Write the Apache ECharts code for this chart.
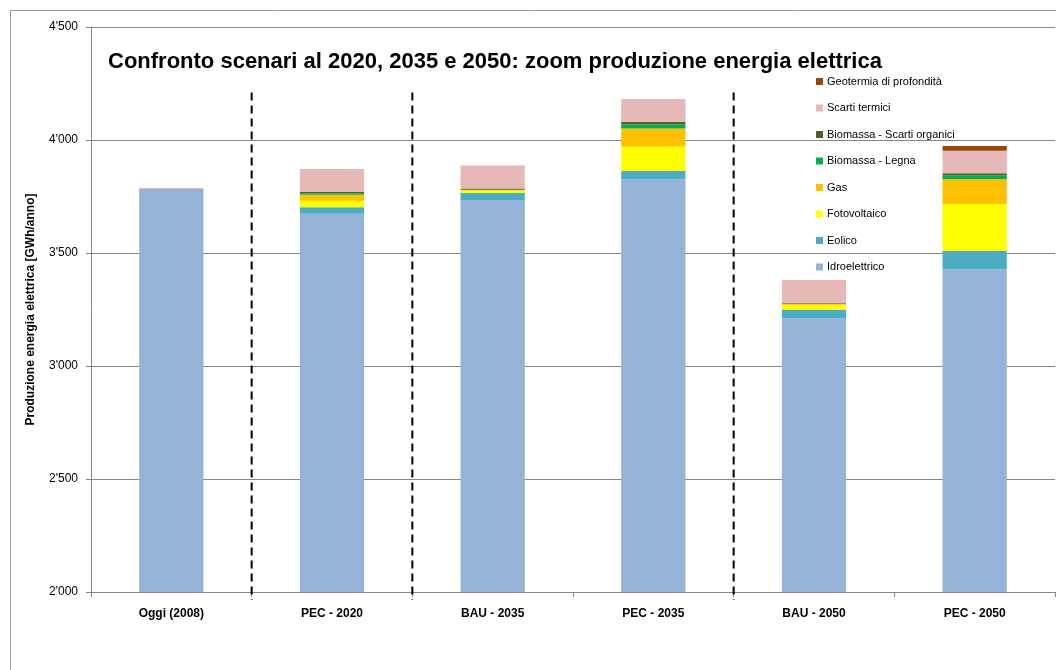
<!DOCTYPE html>
<html>
<head>
<meta charset="utf-8">
<script src="https://cdn.jsdelivr.net/npm/echarts@6/dist/echarts.min.js"></script>
<style>
  html, body { margin: 0; padding: 0; background: #fff; }
  #chart { width: 1056px; height: 670px; }
</style>
</head>
<body>
<div id="chart"></div>
<script>
// categorie e valori (GWh/anno)
const categories = ['Oggi (2008)', 'PEC - 2020', 'BAU - 2035', 'PEC - 2035', 'BAU - 2050', 'PEC - 2050'];
const idroelettrico = [3783, 3674, 3735, 3826, 3211, 3428];
const eolico = [0, 28, 30, 37, 38, 81];
const fotovoltaico = [0, 29, 12, 108, 22, 208];
const gas = [0, 27, 3, 80, 3, 109];
const biomassaLegna = [0, 6, 0, 18, 0, 18];
const biomassaScarti = [0, 6, 5, 12, 4, 9];
const scartiTermici = [5, 102, 102, 100, 102, 99];
const geotermia = [0, 0, 0, 0, 0, 21];
const yTicks = [2000, 2500, 3000, 3500, 4000, 4500];
// separatori tratteggiati tra le categorie (posizione in categorie)
const dividers = [1, 2, 4];
const dividerTop = 4210;
const dividerBottom = 1965;

const font = 'Liberation Sans';
const seriesDefs = [
  ['Idroelettrico', idroelettrico, '#95B3D7'],
  ['Eolico', eolico, '#4BACC6'],
  ['Fotovoltaico', fotovoltaico, '#FFFF00'],
  ['Gas', gas, '#FFC000'],
  ['Biomassa - Legna', biomassaLegna, '#00B050'],
  ['Biomassa - Scarti organici', biomassaScarti, '#4F6228'],
  ['Scarti termici', scartiTermici, '#E6B9B8'],
  ['Geotermia di profondità', geotermia, '#974706']
];

const chart = echarts.init(document.getElementById('chart'));

const barSeries = seriesDefs.map(([name, data, color]) => ({
  name: name,
  type: 'bar',
  stack: 'tot',
  barWidth: '40%',
  itemStyle: { color: color },
  data: data
}));

// linee tratteggiate come serie 'line' sull'asse x numerico nascosto
const dividerSeries = dividers.map(d => ({
  type: 'line',
  xAxisIndex: 1,
  symbol: 'none',
  silent: true,
  clip: false,
  lineStyle: { color: '#000', type: [8, 5], width: 2 },
  data: [[d, dividerTop], [d, dividerBottom]]
}));

chart.setOption({
  animation: false,
  title: {
    text: 'Confronto scenari al 2020, 2035 e 2050: zoom produzione energia elettrica',
    left: 103,
    top: 46,
    textStyle: { fontFamily: font, fontWeight: 'bold', fontSize: 22, color: '#000' }
  },
  graphic: [{
    type: 'rect',
    shape: { x: 10.5, y: 10.5, width: 1100, height: 700 },
    style: { fill: 'none', stroke: '#999', lineWidth: 1 },
    silent: true
  }],
  legend: {
    orient: 'vertical',
    left: 811,
    top: 71,
    itemWidth: 7,
    itemHeight: 7,
    itemGap: 15.5,
    icon: 'rect',
    textStyle: { fontFamily: font, fontSize: 11, color: '#000', padding: [0, 0, 0, -1] },
    data: seriesDefs.map(s => s[0]).reverse()
  },
  grid: {
    left: 91,
    right: 1,
    top: 27,
    bottom: 78
  },
  xAxis: [{
    type: 'category',
    data: categories,
    axisLine: { lineStyle: { color: '#868686' } },
    axisTick: { show: true, length: 5, lineStyle: { color: '#868686' } },
    axisLabel: {
      margin: 16,
      fontFamily: font,
      fontWeight: 'bold',
      fontSize: 12,
      color: '#000'
    }
  }, {
    type: 'value',
    min: 0,
    max: categories.length,
    show: false
  }],
  yAxis: {
    type: 'value',
    min: yTicks[0],
    max: yTicks[yTicks.length - 1],
    interval: 500,
    name: 'Produzione energia elettrica [GWh/anno]',
    nameLocation: 'middle',
    nameGap: 54,
    nameTextStyle: { fontFamily: font, fontWeight: 'bold', fontSize: 12, color: '#000' },
    axisLine: { show: true, lineStyle: { color: '#868686' } },
    axisTick: { show: true, length: 5, lineStyle: { color: '#868686' } },
    axisLabel: {
      margin: 13,
      fontFamily: font,
      fontSize: 12,
      color: '#000',
      formatter: v => String(v).replace(/(\d)(?=(\d{3})+$)/, "$1'")
    },
    splitLine: { lineStyle: { color: '#868686' } }
  },
  series: barSeries.concat(dividerSeries)
});
</script>
</body>
</html>
